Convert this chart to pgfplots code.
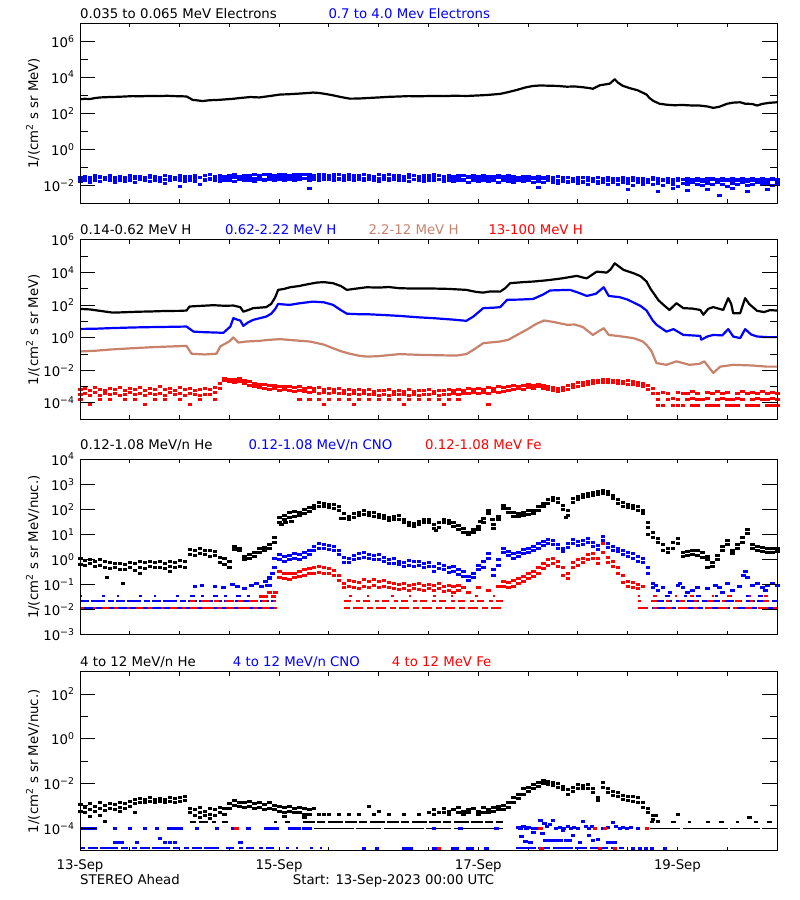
\documentclass[border=0pt]{standalone}
\usepackage{pgfplots}
\pgfplotsset{compat=1.18}
\usepackage{pgfplotstable}
\usepackage{fontspec}
\setmainfont{DejaVu Sans}
\definecolor{hbrown}{RGB}{200,130,108}
\newcommand{\lf}{\fontsize{13.3}{15}\selectfont}
\pgfplotsset{every axis/.append style={scale only axis, width=697pt, xmin=0, xmax=7,
    tick align=inside, axis line style={line width=1pt}, tick style={line width=1pt,black}}}
\tikzset{
  mysc/.style={only marks, mark=square*, mark size=1pt, mark options={draw=none, xscale=1.7}},
  myln/.style={line width=2.2pt, line join=round},
  myrw/.style={line width=2pt},
}
\begin{document}
% ---------------- Panel 1 data ----------------
\pgfplotstableread{
d v
0.00 600
0.05 640
0.10 620
0.15 700
0.20 760
0.30 800
0.40 830
0.53 900
0.60 880
0.70 920
0.80 900
0.87 940
0.95 900
1.02 880
1.07 860
1.10 700
1.13 560
1.18 520
1.23 480
1.30 530
1.40 560
1.54 640
1.60 700
1.71 800
1.80 760
1.90 900
2.01 1100
2.10 1150
2.21 1250
2.30 1350
2.34 1420
2.40 1350
2.48 1150
2.54 1000
2.62 800
2.71 650
2.80 660
2.88 700
3.00 760
3.10 820
3.21 860
3.30 900
3.40 880
3.54 920
3.65 900
3.75 940
3.89 920
4.00 980
4.10 1050
4.22 1200
4.30 1500
4.39 2000
4.47 2700
4.55 3300
4.62 3500
4.72 3400
4.80 3300
4.89 3000
4.97 3100
5.05 2800
5.12 2500
5.15 2300
5.22 3600
5.32 4400
5.37 7800
5.40 5200
5.45 3400
5.52 2500
5.60 1900
5.69 1100
5.72 700
5.76 480
5.82 340
5.89 300
5.97 280
6.05 290
6.15 270
6.22 270
6.30 240
6.36 200
6.42 230
6.50 340
6.56 390
6.63 410
6.68 340
6.75 330
6.80 270
6.85 330
6.92 380
7.00 410
}\eBlack
\pgfplotstableread{
d a b c
0.00 0.030 0.017 0.024
0.05 0.034 0.020 0.026
0.10 0.028 0.015 0.022
0.15 0.036 0.019 0.025
0.20 0.031 0.016 0.027
0.25 0.027 0.021 0.023
0.30 0.035 0.018 0.025
0.35 0.030 0.014 0.021
0.40 0.033 0.020 0.026
0.45 0.029 0.017 0.024
0.50 0.037 0.019 0.024
0.55 0.031 0.015 0.026
0.60 0.034 0.021 0.022
0.65 0.028 0.018 0.025
0.70 0.036 0.016 0.027
0.75 0.032 0.020 0.023
0.80 0.030 0.017 0.025
0.85 0.035 0.013 0.021
0.90 0.033 0.019 0.026
0.95 0.029 0.021 0.024
1.00 0.038 0.018 0.024
1.05 0.034 0.016 0.026
1.10 0.031 0.020 0.022
1.15 0.036 0.017 0.025
1.20 0.030 0.011 0.027
1.25 0.035 0.019 0.023
1.30 0.039 0.021 0.025
1.35 0.033 0.018 0.021
1.40 0.037 0.016 0.026
1.45 0.031 0.020 0.024
1.50 0.036 0.019 0.025
1.55 0.040 0.017 0.027
1.60 0.034 0.021 0.023
1.65 0.038 0.018 0.026
1.70 0.035 0.020 0.028
1.75 0.041 0.016 0.024
1.80 0.036 0.022 0.026
1.85 0.039 0.019 0.022
1.90 0.042 0.021 0.027
1.95 0.037 0.018 0.025
2.00 0.040 0.022 0.027
2.05 0.043 0.020 0.029
2.10 0.038 0.023 0.025
2.15 0.041 0.019 0.028
2.20 0.044 0.021 0.030
2.25 0.039 0.024 0.026
2.30 0.042 0.020 0.028
2.35 0.037 0.022 0.024
2.40 0.043 0.019 0.029
2.45 0.040 0.023 0.027
2.50 0.038 0.021 0.027
2.55 0.042 0.018 0.029
2.60 0.039 0.022 0.025
2.65 0.036 0.020 0.028
2.70 0.041 0.023 0.030
2.75 0.038 0.019 0.026
2.80 0.035 0.021 0.028
2.85 0.040 0.018 0.024
2.90 0.037 0.022 0.029
2.95 0.034 0.020 0.027
3.00 0.039 0.017 0.026
3.05 0.036 0.021 0.028
3.10 0.040 0.019 0.024
3.15 0.035 0.022 0.027
3.20 0.038 0.018 0.029
3.25 0.034 0.020 0.025
3.30 0.039 0.017 0.027
3.35 0.036 0.021 0.023
3.40 0.033 0.019 0.028
3.45 0.038 0.016 0.026
3.50 0.035 0.020 0.025
3.55 0.040 0.018 0.027
3.60 0.036 0.021 0.023
3.65 0.033 0.017 0.026
3.70 0.037 0.019 0.028
3.75 0.034 0.016 0.024
3.80 0.038 0.020 0.026
3.85 0.035 0.018 0.022
3.90 0.032 0.015 0.027
3.95 0.036 0.019 0.025
4.00 0.033 0.017 0.024
4.05 0.037 0.020 0.026
4.10 0.034 0.016 0.022
4.15 0.031 0.018 0.025
4.20 0.035 0.015 0.027
4.25 0.032 0.019 0.023
4.30 0.036 0.017 0.025
4.35 0.033 0.014 0.021
4.40 0.030 0.018 0.026
4.45 0.034 0.016 0.024
4.50 0.031 0.019 0.023
4.55 0.029 0.015 0.025
4.60 0.033 0.017 0.021
4.65 0.030 0.014 0.024
4.70 0.032 0.018 0.022
4.75 0.028 0.015 0.020
4.80 0.031 0.013 0.019
4.85 0.027 0.016 0.021
4.90 0.030 0.014 0.017
4.95 0.026 0.017 0.020
5.00 0.029 0.013 0.018
5.05 0.027 0.015 0.016
5.10 0.030 0.012 0.019
5.15 0.026 0.016 0.021
5.20 0.028 0.013 0.017
5.25 0.025 0.015 0.020
5.30 0.029 0.012 0.018
5.35 0.026 0.014 0.016
5.40 0.024 0.011 0.019
5.45 0.028 0.015 0.021
5.50 0.025 0.013 0.017
5.55 0.027 0.010 0.020
5.60 0.024 0.014 0.018
5.65 0.026 0.012 0.016
5.70 0.023 0.015 0.019
5.75 0.027 0.011 0.021
5.80 0.024 0.013 0.017
5.85 0.022 0.010 0.020
5.90 0.026 0.014 0.018
5.95 0.023 0.012 0.016
6.00 0.025 0.009 0.019
6.05 0.022 0.013 0.021
6.10 0.026 0.011 0.017
6.15 0.023 0.014 0.020
6.20 0.025 0.012 0.018
6.25 0.022 0.010 0.016
6.30 0.026 0.013 0.019
6.35 0.024 0.011 0.021
6.40 0.021 0.014 0.017
6.45 0.025 0.012 0.020
6.50 0.023 0.009 0.018
6.55 0.026 0.013 0.016
6.60 0.022 0.011 0.019
6.65 0.024 0.014 0.021
6.70 0.021 0.010 0.017
6.75 0.025 0.012 0.020
6.80 0.023 0.014 0.018
6.85 0.026 0.011 0.016
6.90 0.022 0.013 0.019
6.95 0.024 0.010 0.021
7.00 0.023 0.012 0.017
}\eBlue
% ---------------- Panel 2 data ----------------
\pgfplotstableread{
d v
0.00 59
0.10 55
0.20 45
0.33 35
0.45 37
0.60 40
0.70 41
0.85 44
1.00 45
1.07 47
1.10 83
1.20 90
1.34 100
1.45 92
1.54 95
1.61 76
1.64 40
1.68 48
1.74 66
1.87 76
1.92 120
1.96 300
1.99 870
2.05 1000
2.11 1260
2.20 1500
2.30 2000
2.38 2450
2.45 2600
2.54 2240
2.62 1500
2.68 870
2.75 1000
2.88 1260
3.00 1200
3.10 1300
3.21 1100
3.35 1050
3.55 1050
3.70 1000
3.88 870
3.98 650
4.05 590
4.12 700
4.22 680
4.27 1100
4.32 2240
4.45 2600
4.55 2820
4.65 3200
4.72 3550
4.85 4500
4.99 6300
5.05 5000
5.09 4470
5.19 11500
5.29 10000
5.33 16000
5.37 37000
5.42 22000
5.46 14500
5.56 9100
5.63 6000
5.69 2820
5.73 1000
5.76 550
5.81 200
5.86 105
5.92 51
5.99 132
6.06 66
6.15 62
6.23 51
6.26 26
6.31 60
6.36 76
6.42 60
6.46 51
6.51 270
6.54 120
6.56 32
6.63 32
6.68 270
6.72 120
6.80 45
6.87 38
6.93 50
7.00 47
}\hBlack
\pgfplotstableread{
d v
0.00 3.5
0.15 3.6
0.30 3.9
0.53 4.3
0.70 4.5
0.90 4.7
1.07 4.9
1.14 2.4
1.25 2.2
1.37 2.1
1.44 2.0
1.51 4.9
1.54 16
1.58 13
1.61 11.5
1.64 5.4
1.69 9
1.74 12.6
1.87 20
1.92 30
1.96 58
1.99 120
2.05 110
2.11 105
2.20 130
2.34 166
2.45 150
2.54 105
2.62 50
2.68 30
2.80 28
2.88 28
3.05 25
3.21 22
3.40 18
3.55 16
3.75 13
3.88 11
3.95 20
4.05 66
4.15 70
4.22 76
4.29 214
4.40 220
4.55 240
4.65 450
4.72 800
4.85 850
4.92 870
5.00 600
5.09 370
5.18 500
5.26 1260
5.31 370
5.42 310
5.50 220
5.56 145
5.63 90
5.69 47
5.75 12
5.79 6.3
5.85 3.5
5.89 2.4
5.96 3.4
6.06 1.5
6.15 1.4
6.23 1.3
6.24 0.76
6.30 1.2
6.36 1.5
6.45 1.4
6.51 3.4
6.56 1.2
6.63 0.95
6.68 3.4
6.74 1.6
6.80 1.2
6.90 1.1
7.00 1.1
}\hBlue
\pgfplotstableread{
d v
0.00 0.145
0.15 0.16
0.30 0.19
0.53 0.23
0.75 0.27
0.95 0.3
1.07 0.32
1.12 0.105
1.25 0.095
1.37 0.105
1.41 0.3
1.50 0.6
1.54 1.05
1.59 0.51
1.67 0.59
1.80 0.65
1.90 0.75
2.01 0.83
2.15 0.7
2.31 0.59
2.45 0.38
2.54 0.23
2.62 0.15
2.71 0.105
2.80 0.08
2.88 0.07
3.00 0.075
3.21 0.1
3.40 0.09
3.60 0.085
3.78 0.081
3.88 0.1
3.95 0.18
4.05 0.47
4.22 0.59
4.30 0.75
4.39 1.5
4.50 3.5
4.58 7
4.66 11.5
4.75 9.5
4.89 6.3
4.97 6.5
5.05 4.6
5.15 1.5
5.26 3.9
5.31 1.5
5.40 1.3
5.56 0.95
5.65 0.6
5.69 0.37
5.74 0.15
5.79 0.028
5.89 0.022
5.99 0.036
6.12 0.022
6.22 0.025
6.27 0.036
6.36 0.007
6.43 0.017
6.56 0.022
6.75 0.02
6.90 0.017
7.00 0.017
}\hBrown
\pgfplotstableread{
d a b c
0.00 7e-4 3.4e-4 1.6e-4
0.05 8e-4 4.0e-4 nan
0.10 6e-4 3.0e-4 8e-5
0.15 9e-4 4.4e-4 nan
0.20 7e-4 3.2e-4 1.8e-4
0.25 6e-4 3.8e-4 nan
0.30 8e-4 3.5e-4 1.8e-4
0.35 7e-4 4.2e-4 nan
0.40 9e-4 3.0e-4 nan
0.45 6e-4 3.6e-4 1.8e-4
0.50 8e-4 4.5e-4 nan
0.55 7e-4 3.3e-4 1.8e-4
0.60 9e-4 3.9e-4 nan
0.65 6e-4 3.1e-4 8e-5
0.70 8e-4 4.1e-4 nan
0.75 7e-4 3.4e-4 1.8e-4
0.80 1e-3 3.8e-4 nan
0.85 7e-4 3.2e-4 1.8e-4
0.90 8e-4 4.3e-4 nan
0.95 6e-4 3.5e-4 nan
1.00 9e-4 3.9e-4 1.8e-4
1.05 7e-4 3.0e-4 nan
1.10 8e-4 4.2e-4 8e-5
1.15 6e-4 3.4e-4 nan
1.20 7e-4 3.1e-4 1.8e-4
1.25 8e-4 3.7e-4 nan
1.30 7e-4 3.3e-4 nan
1.35 9e-4 4.4e-4 1.8e-4
1.40 1.6e-3 8e-4 nan
1.45 3.2e-3 2.4e-3 nan
1.50 3.0e-3 2.2e-3 nan
1.55 2.8e-3 2.0e-3 nan
1.60 3.4e-3 2.3e-3 nan
1.65 2.5e-3 1.7e-3 nan
1.70 2.2e-3 1.3e-3 nan
1.75 1.6e-3 1.1e-3 nan
1.80 1.5e-3 9e-4 nan
1.85 1.4e-3 8e-4 nan
1.90 1.2e-3 7e-4 nan
1.95 1.3e-3 8e-4 nan
2.00 1.1e-3 6e-4 nan
2.05 1.0e-3 7e-4 nan
2.10 1.1e-3 6e-4 nan
2.15 9e-4 5e-4 nan
2.20 1.0e-3 6e-4 1.8e-4
2.25 8e-4 5e-4 nan
2.30 9e-4 4.5e-4 1.8e-4
2.35 8e-4 5e-4 nan
2.40 9e-4 4.2e-4 1.8e-4
2.45 7e-4 4.8e-4 8e-5
2.50 8e-4 4.0e-4 1.8e-4
2.55 7e-4 4.5e-4 nan
2.60 8e-4 3.8e-4 1.8e-4
2.65 6e-4 4.2e-4 nan
2.70 7e-4 3.5e-4 1.8e-4
2.75 6e-4 4.0e-4 8e-5
2.80 7e-4 3.4e-4 1.8e-4
2.85 6e-4 3.8e-4 nan
2.90 7e-4 3.3e-4 1.8e-4
2.95 5.5e-4 3.6e-4 nan
3.00 6.5e-4 3.2e-4 1.8e-4
3.05 6e-4 3.6e-4 nan
3.10 7e-4 3.1e-4 1.8e-4
3.15 5.5e-4 3.5e-4 nan
3.20 6.5e-4 3.3e-4 1.8e-4
3.25 5.5e-4 3.7e-4 8e-5
3.30 7e-4 3.2e-4 1.8e-4
3.35 5.5e-4 3.6e-4 nan
3.40 6.5e-4 3.1e-4 1.8e-4
3.45 6e-4 3.5e-4 nan
3.50 7e-4 3.3e-4 1.8e-4
3.55 5.5e-4 3.8e-4 nan
3.60 6.5e-4 3.2e-4 1.8e-4
3.65 6e-4 3.6e-4 8e-5
3.70 7e-4 3.4e-4 1.8e-4
3.75 6e-4 3.9e-4 nan
3.80 7.5e-4 3.5e-4 1.8e-4
3.85 6.5e-4 4.2e-4 nan
3.90 8e-4 3.8e-4 nan
3.95 7e-4 4.4e-4 nan
4.00 8.5e-4 4.0e-4 nan
4.05 7.5e-4 4.6e-4 nan
4.10 9e-4 4.2e-4 8e-5
4.15 8e-4 5e-4 nan
4.20 1.0e-3 4.6e-4 nan
4.25 9e-4 5.5e-4 nan
4.30 1.1e-3 6e-4 nan
4.35 1.2e-3 7e-4 nan
4.40 1.1e-3 8e-4 nan
4.45 1.3e-3 7e-4 nan
4.50 1.4e-3 9e-4 nan
4.55 1.3e-3 8e-4 nan
4.60 1.5e-3 1.0e-3 nan
4.65 1.3e-3 8e-4 nan
4.70 1.1e-3 7e-4 nan
4.75 9e-4 6e-4 nan
4.80 8e-4 5e-4 nan
4.85 9e-4 6e-4 nan
4.90 1.2e-3 7e-4 nan
4.95 1.5e-3 9e-4 nan
5.00 1.8e-3 1.1e-3 nan
5.05 2.0e-3 1.3e-3 nan
5.10 2.2e-3 1.5e-3 nan
5.15 2.4e-3 1.6e-3 nan
5.20 2.6e-3 1.8e-3 nan
5.25 2.9e-3 2.0e-3 nan
5.30 2.7e-3 1.9e-3 nan
5.35 2.5e-3 1.8e-3 nan
5.40 2.6e-3 1.7e-3 nan
5.45 2.3e-3 1.6e-3 nan
5.50 2.4e-3 1.5e-3 nan
5.55 2.1e-3 1.4e-3 nan
5.60 1.9e-3 1.2e-3 nan
5.65 1.7e-3 1.0e-3 nan
5.70 1.2e-3 7e-4 nan
5.75 8e-4 4e-4 nan
5.80 4.0e-4 1.8e-4 7.6e-5
5.85 4.5e-4 nan 7.6e-5
5.90 4.0e-4 1.8e-4 nan
5.95 nan 2.0e-4 7.6e-5
6.00 4.5e-4 1.8e-4 7.6e-5
6.05 4.0e-4 nan 7.6e-5
6.10 4.0e-4 1.8e-4 nan
6.15 5.0e-4 2.0e-4 7.6e-5
6.20 4.0e-4 1.8e-4 7.6e-5
6.25 nan 1.8e-4 nan
6.30 4.5e-4 2.0e-4 7.6e-5
6.35 4.0e-4 nan 7.6e-5
6.40 5.5e-4 1.8e-4 7.6e-5
6.45 4.0e-4 2.0e-4 nan
6.50 4.5e-4 1.8e-4 7.6e-5
6.55 nan 1.8e-4 7.6e-5
6.60 4.0e-4 2.0e-4 7.6e-5
6.65 5e-4 1.8e-4 nan
6.70 4.0e-4 nan 7.6e-5
6.75 4.5e-4 1.8e-4 7.6e-5
6.80 4.0e-4 2.0e-4 7.6e-5
6.85 5.5e-4 1.8e-4 nan
6.90 4.0e-4 1.8e-4 7.6e-5
6.95 4.5e-4 2.0e-4 7.6e-5
7.00 4.0e-4 1.8e-4 7.6e-5
}\hRed
% ---------------- Panel 3 data ----------------
\pgfplotstableread{
d a b
0.00 1.1 0.65
0.05 0.95 0.6
0.10 1.05 0.7
0.15 0.9 0.55
0.20 1.0 0.62
0.25 0.85 0.5
0.30 0.8 0.45
0.35 0.7 0.5
0.40 0.75 0.42
0.45 0.65 0.4
0.50 0.8 0.48
0.55 0.7 0.38
0.60 0.85 0.5
0.65 0.78 0.45
0.70 0.9 0.55
0.75 0.8 0.5
0.80 0.85 0.52
0.85 0.75 0.45
0.90 0.9 0.55
0.95 0.8 0.5
1.00 0.95 0.55
1.05 0.85 0.52
1.10 2.6 1.7
1.15 2.3 1.5
1.20 2.8 1.8
1.25 2.4 1.6
1.30 2.5 1.4
1.35 2.2 1.5
1.40 1.3 0.8
1.45 1.1 0.65
1.50 0.9 0.5
1.55 3.4 2.6
1.60 3.0 2.4
1.65 1.4 1.0
1.70 1.6 1.1
1.75 2.0 1.4
1.80 2.8 2.0
1.85 3.2 2.3
1.90 4.0 2.8
1.95 8 5
2.00 50 30
2.05 60 40
2.10 75 50
2.15 85 55
2.20 80 60
2.25 100 70
2.30 120 85
2.35 150 110
2.40 190 140
2.45 180 130
2.50 170 125
2.55 160 115
2.60 130 95
2.65 70 45
2.70 55 40
2.75 70 50
2.80 80 60
2.85 90 65
2.90 80 60
2.95 75 55
3.00 65 50
3.05 60 45
3.10 50 38
3.15 55 40
3.20 58 42
3.25 40 30
3.30 32 24
3.35 28 22
3.40 35 25
3.45 40 30
3.50 42 30
3.55 25 18
3.60 30 20
3.65 42 30
3.70 38 28
3.75 30 22
3.80 24 17
3.85 18 13
3.90 13 10
3.95 16 12
4.00 22 16
4.05 45 30
4.10 95 70
4.15 25 18
4.20 55 40
4.25 150 110
4.30 110 80
4.35 75 55
4.40 70 52
4.45 80 60
4.50 90 65
4.55 95 70
4.60 130 95
4.65 175 130
4.70 250 180
4.75 320 240
4.80 280 200
4.85 150 100
4.90 95 60
4.95 280 200
5.00 330 250
5.05 400 300
5.10 440 330
5.15 480 360
5.20 520 400
5.25 600 450
5.30 520 400
5.35 380 280
5.40 250 180
5.45 200 140
5.50 160 120
5.55 150 110
5.60 130 95
5.65 95 70
5.70 30 20
5.75 12 8
5.80 7 5
5.85 4 2.5
5.90 3 2
5.95 5 3
6.00 7 4.5
6.05 2 1.4
6.10 2.2 1.5
6.15 2.5 1.6
6.20 2.3 1.5
6.25 2.0 1.3
6.30 1.4 1.0
6.35 0.8 0.55
6.40 1.5 1.0
6.45 3.5 2.5
6.50 6 4
6.55 2.5 1.8
6.60 4 2.8
6.65 8 5
6.70 16 11
6.75 4 2.8
6.80 3.5 2.5
6.85 3.2 2.2
6.90 3.0 2.0
6.95 2.8 2.0
7.00 3.0 2.2
}\heBlack
\pgfplotstableread{
d a b
1.90 0.18 0.1
1.95 1.2 0.5
2.00 1.6 1.0
2.05 1.4 0.9
2.10 1.5 1.0
2.15 1.8 1.1
2.20 1.6 1.0
2.25 2.0 1.3
2.30 2.5 1.6
2.35 3.5 2.3
2.40 4.5 3.0
2.45 4.2 2.8
2.50 3.8 2.6
2.55 3.5 2.4
2.60 2.5 1.6
2.65 1.3 0.8
2.70 1.2 0.8
2.75 1.5 1.0
2.80 1.8 1.2
2.85 2.0 1.3
2.90 1.7 1.1
2.95 1.5 1.0
3.00 1.6 1.0
3.05 1.3 0.9
3.10 1.0 0.7
3.15 1.1 0.75
3.20 0.9 0.65
3.25 0.8 0.55
3.30 0.95 0.6
3.35 0.85 0.55
3.40 0.9 0.6
3.45 0.75 0.5
3.50 0.8 0.55
3.55 0.55 0.35
3.60 0.7 0.45
3.65 0.6 0.4
3.70 0.5 0.32
3.75 0.55 0.35
3.80 0.4 0.26
3.85 0.35 0.22
3.90 0.22 0.15
3.95 0.3 0.2
4.00 0.6 0.4
4.05 0.9 0.5
4.10 1.8 1.2
4.15 0.4 0.25
4.20 1.0 0.6
4.25 3.0 2.0
4.30 2.2 1.5
4.35 1.8 1.2
4.40 2.0 1.4
4.45 2.6 1.8
4.50 3.0 2.0
4.55 3.6 2.4
4.60 4.5 3.0
4.65 5.5 3.8
4.70 6.5 4.5
4.75 6.0 4.2
4.80 4.0 2.8
4.85 3.0 2.2
4.90 4.5 3.2
4.95 6.5 4.5
5.00 5.5 3.8
5.05 6.0 4.2
5.10 7 5
5.15 5 3.5
5.20 3.8 2.6
5.25 9 6
5.30 4.5 3.2
5.35 3.5 2.4
5.40 3.0 2.1
5.45 2.5 1.7
5.50 2.0 1.4
5.55 1.8 1.2
5.60 1.4 0.9
5.65 1.2 0.8
5.70 0.5 0.3
5.75 0.12 0.08
}\cnoBlue
\pgfplotstableread{
d a b
2.00 0.35 0.2
2.05 0.3 0.18
2.10 0.28 0.17
2.15 0.3 0.2
2.20 0.35 0.22
2.25 0.4 0.25
2.30 0.45 0.28
2.35 0.5 0.3
2.40 0.55 0.32
2.45 0.5 0.3
2.50 0.45 0.28
2.55 0.38 0.24
2.60 0.25 0.15
2.65 0.12 0.08
2.70 0.15 0.09
2.75 0.14 0.08
2.80 0.13 0.07
2.85 0.16 0.09
2.90 0.14 0.08
2.95 0.17 0.1
3.00 0.14 0.08
3.05 0.15 0.09
3.10 0.13 0.08
3.15 0.12 0.07
3.20 0.11 0.065
3.25 0.12 0.07
3.30 0.1 0.06
3.35 0.11 0.07
3.40 0.12 0.065
3.45 0.1 0.06
3.50 0.11 0.07
3.55 0.1 0.06
3.60 0.12 0.07
3.65 0.09 0.055
3.70 0.1 0.06
3.75 0.09 0.05
3.80 0.1 0.06
3.85 0.08 nan
3.90 nan 0.05
4.00 0.08 nan
4.10 nan 0.06
4.20 0.09 nan
4.25 0.14 0.09
4.30 0.13 0.08
4.35 0.15 0.09
4.40 0.18 0.12
4.45 0.22 0.14
4.50 0.3 0.18
4.55 0.35 0.22
4.60 0.5 0.3
4.65 0.7 0.45
4.70 1.0 0.6
4.75 1.1 0.7
4.80 0.9 0.55
4.85 0.5 0.25
4.90 0.3 0.18
4.95 0.8 0.5
5.00 1.0 0.6
5.05 1.2 0.8
5.10 1.6 1.0
5.15 1.9 1.2
5.20 1.2 0.7
5.25 4.4 2.0
5.30 1.3 0.8
5.35 0.9 0.55
5.40 0.5 0.3
5.45 0.25 0.13
5.50 0.14 0.09
5.55 0.13 0.08
5.60 0.11 0.07
5.65 0.09 nan
}\feRed
% ---------------- Panel 4 data ----------------
\pgfplotstableread{
d a b
0.00 1.2e-3 6e-4
0.05 9e-4 5e-4
0.10 1.3e-3 7e-4
0.15 1.0e-3 6e-4
0.20 1.4e-3 8e-4
0.25 1.1e-3 6.5e-4
0.30 1.3e-3 8e-4
0.35 1.2e-3 7e-4
0.40 1.5e-3 9e-4
0.45 1.3e-3 8e-4
0.50 1.6e-3 1.0e-3
0.55 2.0e-3 1.3e-3
0.60 2.2e-3 1.5e-3
0.65 2.0e-3 1.4e-3
0.70 2.4e-3 1.6e-3
0.75 2.1e-3 1.5e-3
0.80 2.3e-3 1.6e-3
0.85 2.0e-3 1.4e-3
0.90 2.5e-3 1.7e-3
0.95 2.2e-3 1.5e-3
1.00 2.4e-3 1.6e-3
1.05 2.6e-3 1.8e-3
1.10 8e-4 5e-4
1.15 7e-4 4e-4
1.20 9e-4 5.5e-4
1.25 6e-4 4e-4
1.30 8e-4 4.5e-4
1.35 7e-4 4e-4
1.40 9e-4 5e-4
1.45 8e-4 4.5e-4
1.50 1.3e-3 8e-4
1.55 1.8e-3 1.1e-3
1.60 1.5e-3 1.0e-3
1.65 1.4e-3 9e-4
1.70 1.6e-3 1.0e-3
1.75 1.3e-3 8e-4
1.80 1.5e-3 9e-4
1.85 1.2e-3 7e-4
1.90 1.4e-3 8e-4
1.95 1.1e-3 7e-4
2.00 1.0e-3 6e-4
2.05 9e-4 5.5e-4
2.10 1.0e-3 6e-4
2.15 8e-4 5e-4
2.20 9e-4 5.5e-4
2.25 8e-4 4.5e-4
2.30 7e-4 4.5e-4
2.35 8e-4 nan
2.40 nan 4.5e-4
2.45 4.5e-4 nan
2.50 nan 4.5e-4
2.60 4.5e-4 nan
2.70 nan 4.5e-4
2.80 4.5e-4 nan
2.95 4.5e-4 nan
3.10 nan 4.5e-4
3.25 4.5e-4 nan
3.40 nan 4.5e-4
3.50 5e-4 nan
3.55 7e-4 4.5e-4
3.60 5e-4 nan
3.65 8e-4 5e-4
3.70 6e-4 4.5e-4
3.75 7e-4 nan
3.80 9e-4 5e-4
3.85 6e-4 4.5e-4
3.90 7e-4 5e-4
3.95 8e-4 nan
4.00 6e-4 4.5e-4
4.05 9e-4 5e-4
4.10 7e-4 5e-4
4.15 9e-4 6e-4
4.20 1.0e-3 7e-4
4.25 1.1e-3 7e-4
4.30 1.5e-3 9e-4
4.35 2.5e-3 1.5e-3
4.40 3.5e-3 2.2e-3
4.45 6e-3 3.5e-3
4.50 7e-3 4.5e-3
4.55 9e-3 6e-3
4.60 1.2e-2 8e-3
4.65 1.4e-2 1.0e-2
4.70 1.3e-2 9e-3
4.75 1.2e-2 8.5e-3
4.80 1.0e-2 7e-3
4.85 8e-3 5.5e-3
4.90 5.5e-3 3.5e-3
4.95 7e-3 4.5e-3
5.00 9e-3 6.5e-3
5.05 8.5e-3 6e-3
5.10 9e-3 6.5e-3
5.15 6e-3 4e-3
5.20 2.5e-3 1.8e-3
5.25 1.2e-2 7e-3
5.30 6e-3 4e-3
5.35 4.5e-3 3e-3
5.40 4e-3 2.8e-3
5.45 3e-3 2e-3
5.50 2.8e-3 1.8e-3
5.55 2.6e-3 1.7e-3
5.60 2.5e-3 1.5e-3
5.65 1.5e-3 9e-4
5.70 8e-4 5e-4
5.75 4e-4 2.5e-4
}\lBlack
\begin{tikzpicture}
\path[use as bounding box] (0,0) rectangle (800pt,900pt);
% ================= Panel 1 =================
\begin{axis}[at={(80pt,696.7pt)}, anchor=south west, height=180pt, ymode=log, ymin=1e-3, ymax=1e7,
  xtick={0,0.5,...,7}, xticklabels={}, ytick=\empty, major tick length=4pt]
\addplot[myln, black] table[x=d,y=v] {\eBlack};
\addplot[mysc, blue] table[x=d,y=a] {\eBlue};
\addplot[mysc, blue] table[x=d,y=b] {\eBlue};
\addplot[mysc, blue] table[x=d,y=c] {\eBlue};
\addplot[mysc, blue] coordinates {(1.0,0.0085)(2.3,0.007)(4.6,0.008)(5.5,0.006)(5.8,0.005)(6.1,0.0055)(6.3,0.006)(6.7,0.0045)(6.9,0.006)(6.42,0.0028)(5.95,0.0065)(6.55,0.007)};
\end{axis}
\begin{axis}[at={(80pt,696.7pt)}, anchor=south west, height=180pt, ymode=log, ymin=1e-3, ymax=1e7,
  xtick=\empty, major tick length=15pt, minor tick length=7.5pt,
  ytick={1e-2,1,1e2,1e4,1e6}, minor ytick={1e-1,1e1,1e3,1e5},
  yticklabels={10\textsuperscript{−2},10\textsuperscript{0},10\textsuperscript{2},10\textsuperscript{4},10\textsuperscript{6}},
  yticklabel style={font=\lf, xshift=-2pt},
  ylabel={1/(cm\textsuperscript{2} s sr MeV)},
  ylabel style={font=\lf, at={(axis description cs:-0.0674,0.5)}, anchor=center}]
\end{axis}
% ================= Panel 2 =================
\begin{axis}[at={(80pt,480.7pt)}, anchor=south west, height=179.3pt, ymode=log, ymin=1e-5, ymax=1e6,
  xtick={0,0.5,...,7}, xticklabels={}, ytick=\empty, major tick length=4pt]
\addplot[myln, black] table[x=d,y=v] {\hBlack};
\addplot[myln, blue] table[x=d,y=v] {\hBlue};
\addplot[myln, hbrown] table[x=d,y=v] {\hBrown};
\addplot[mysc, red] table[x=d,y=a] {\hRed};
\addplot[mysc, red] table[x=d,y=b] {\hRed};
\addplot[mysc, red] table[x=d,y=c] {\hRed};
\end{axis}
\begin{axis}[at={(80pt,480.7pt)}, anchor=south west, height=179.3pt, ymode=log, ymin=1e-5, ymax=1e6,
  xtick=\empty, major tick length=15pt, minor tick length=7.5pt,
  ytick={1e-4,1e-2,1,1e2,1e4,1e6}, minor ytick={1e-3,1e-1,1e1,1e3,1e5},
  yticklabels={10\textsuperscript{−4},10\textsuperscript{−2},10\textsuperscript{0},10\textsuperscript{2},10\textsuperscript{4},10\textsuperscript{6}},
  yticklabel style={font=\lf, xshift=-2pt},
  ylabel={1/(cm\textsuperscript{2} s sr MeV)},
  ylabel style={font=\lf, at={(axis description cs:-0.0674,0.5)}, anchor=center}]
\end{axis}
% ================= Panel 3 =================
\begin{axis}[at={(80pt,265pt)}, anchor=south west, height=175.7pt, ymode=log, ymin=1e-3, ymax=1e4,
  xtick={0,0.5,...,7}, xticklabels={}, ytick=\empty, major tick length=4pt]
\addplot[mysc, black] table[x=d,y=a] {\heBlack};
\addplot[mysc, black] table[x=d,y=b] {\heBlack};
\addplot[mysc, black] coordinates {(0.27,0.2)(0.43,0.12)(0.6,0.3)(0.9,0.35)(2.02,25)(2.06,30)(2.12,35)(2.62,45)(4.02,35)(4.14,40)(5.7,10)(6.3,0.5)(3.57,15)(4.88,50)};
\addplot[blue, myrw] coordinates {(0,0.0115)(1.98,0.0115)};
\addplot[blue, myrw, dash pattern=on 14pt off 2pt on 8pt off 3pt] coordinates {(5.74,0.0115)(7,0.0115)};
\addplot[blue, myrw, dash pattern=on 9pt off 2pt on 14pt off 3pt on 6pt off 2pt] coordinates {(0,0.022)(1.97,0.022)};
\addplot[blue, myrw, dash pattern=on 12pt off 3pt on 5pt off 4pt on 9pt off 2pt] coordinates {(5.74,0.022)(7,0.022)};
\addplot[blue, myrw, dash pattern=on 2pt off 20pt on 3pt off 12pt] coordinates {(0,0.036)(1.1,0.036)};
\addplot[blue, myrw, dash pattern=on 5pt off 6pt on 3pt off 9pt] coordinates {(1.1,0.036)(1.9,0.036)};
\addplot[blue, myrw, dash pattern=on 3pt off 9pt on 5pt off 14pt] coordinates {(5.75,0.036)(7,0.036)};
\addplot[mysc, blue] coordinates {(1.15,0.09)(1.22,0.1)(1.35,0.085)(1.53,0.11)(1.58,0.085)(1.72,0.1)(1.77,0.12)(1.82,0.09)(1.86,0.14)(1.88,0.1)(1.9,0.2)(1.93,0.3)(1.44,0.08)(1.65,0.07)
 (5.78,0.1)(5.8,0.06)(5.85,0.08)(5.92,0.05)(6.0,0.1)(6.02,0.12)(6.05,0.08)(6.15,0.06)(6.2,0.08)(6.3,0.07)(6.38,0.1)(6.42,0.08)(6.5,0.12)(6.55,0.06)(6.62,0.09)(6.66,0.25)(6.68,0.35)(6.7,0.2)(6.75,0.1)(6.8,0.12)(6.85,0.08)(6.9,0.1)(6.95,0.12)(7.0,0.1)(6.1,0.05)(6.45,0.05)(6.88,0.06)};
\addplot[mysc, blue] table[x=d,y=a] {\cnoBlue};
\addplot[mysc, blue] table[x=d,y=b] {\cnoBlue};
\addplot[red, myrw, dash pattern=on 4pt off 9pt on 3pt off 6pt on 7pt off 5pt] coordinates {(0,0.0115)(1.1,0.0115)};
\addplot[red, myrw, dash pattern=on 8pt off 4pt on 12pt off 3pt on 5pt off 4pt] coordinates {(1.1,0.0115)(1.98,0.0115)};
\addplot[red, myrw, dash pattern=on 6pt off 3pt on 10pt off 4pt] coordinates {(2.65,0.0115)(4.25,0.0115)};
\addplot[red, myrw, dash pattern=on 10pt off 5pt on 4pt off 8pt on 7pt off 6pt] coordinates {(5.6,0.0115)(7,0.0115)};
\addplot[red, myrw, dash pattern=on 5pt off 6pt on 9pt off 4pt] coordinates {(1.1,0.022)(1.97,0.022)};
\addplot[red, myrw, dash pattern=on 7pt off 5pt on 4pt off 3pt] coordinates {(2.65,0.022)(4.25,0.022)};
\addplot[red, myrw, dash pattern=on 3pt off 10pt on 6pt off 9pt] coordinates {(5.6,0.022)(7,0.022)};
\addplot[red, myrw, dash pattern=on 3pt off 15pt on 2pt off 22pt] coordinates {(2.7,0.036)(4.2,0.036)};
\addplot[red, myrw, dash pattern=on 2pt off 13pt on 4pt off 18pt] coordinates {(5.6,0.036)(7,0.036)};
\addplot[mysc, red] coordinates {(1.82,0.036)(1.86,0.036)(1.9,0.05)(1.94,0.036)(1.96,0.05)};
\addplot[mysc, red] table[x=d,y=a] {\feRed};
\addplot[mysc, red] table[x=d,y=b] {\feRed};
\end{axis}
\begin{axis}[at={(80pt,265pt)}, anchor=south west, height=175.7pt, ymode=log, ymin=1e-3, ymax=1e4,
  xtick=\empty, major tick length=15pt, minor tick length=7.5pt,
  ytick={1e-3,1e-2,1e-1,1,1e1,1e2,1e3,1e4}, minor ytick={2e5},
  yticklabels={10\textsuperscript{−3},10\textsuperscript{−2},10\textsuperscript{−1},10\textsuperscript{0},10\textsuperscript{1},10\textsuperscript{2},10\textsuperscript{3},10\textsuperscript{4}},
  yticklabel style={font=\lf, xshift=-2pt},
  ylabel={1/(cm\textsuperscript{2} s sr MeV/nuc.)},
  ylabel style={font=\lf, at={(axis description cs:-0.0674,0.5)}, anchor=center}]
\end{axis}
% ================= Panel 4 =================
\begin{axis}[at={(80pt,49.3pt)}, anchor=south west, height=179pt, ymode=log, ymin=1e-5, ymax=1e3,
  xtick={0,0.5,...,7}, ytick=\empty, major tick length=4pt,
  xticklabels={13-Sep,,,,15-Sep,,,,17-Sep,,,,19-Sep,,,},
  xticklabel style={font=\lf, yshift=-5pt}]
\addplot[mysc, black] table[x=d,y=a] {\lBlack};
\addplot[mysc, black] table[x=d,y=b] {\lBlack};
\addplot[mysc, black] coordinates {(6.0,4.5e-4)(6.72,3e-4)(5.78,4e-4)(5.8,2e-4)(1.2,3e-4)(1.3,2.8e-4)(0.4,6e-4)(0.55,5e-4)(2.05,3.5e-4)(2.25,3e-4)(0.2,4e-4)(0.1,3.5e-4)(0.25,2e-4)(2.9,1e-3)(3.0,6e-4)};
\addplot[black, line width=1.6pt, dash pattern=on 40pt off 2pt on 25pt off 3pt] coordinates {(2.35,1e-4)(4.25,1e-4)};
\addplot[black, line width=1.6pt, dash pattern=on 30pt off 3pt on 45pt off 2pt] coordinates {(5.72,1e-4)(7,1e-4)};
\addplot[black, myrw, dash pattern=on 6pt off 3pt on 9pt off 4pt on 4pt off 6pt] coordinates {(1.1,2e-4)(1.5,2e-4)};
\addplot[black, myrw, dash pattern=on 3pt off 8pt on 5pt off 10pt] coordinates {(1.95,2e-4)(2.2,2e-4)};
\addplot[black, myrw, dash pattern=on 12pt off 2pt on 8pt off 3pt on 15pt off 2pt] coordinates {(2.24,2e-4)(4.25,2e-4)};
\addplot[black, myrw, dash pattern=on 4pt off 6pt on 3pt off 9pt] coordinates {(5.72,2e-4)(5.82,2e-4)};
\addplot[black, myrw, dash pattern=on 5pt off 12pt on 3pt off 15pt on 4pt off 9pt] coordinates {(5.94,2e-4)(6.98,2e-4)};
\addplot[blue, myrw, dash pattern=on 5pt off 3pt on 10pt off 2pt on 18pt off 3pt on 7pt off 4pt] coordinates {(0,1.3e-5)(1.4,1.3e-5)};
\addplot[blue, myrw, dash pattern=on 8pt off 5pt on 4pt off 3pt] coordinates {(1.47,1.3e-5)(1.97,1.3e-5)};
\addplot[blue, myrw, dash pattern=on 3pt off 7pt on 2pt off 12pt] coordinates {(2.07,1.3e-5)(2.45,1.3e-5)};
\addplot[blue, myrw, dash pattern=on 20pt off 2pt on 12pt off 3pt] coordinates {(4.38,1.3e-5)(5.3,1.3e-5)};
\addplot[blue, myrw, dash pattern=on 5pt off 3pt] coordinates {(5.33,1.3e-5)(5.48,1.3e-5)};
\addplot[mysc, blue] coordinates {(2.85,1.3e-5)(2.98,1.3e-5)(3.25,1.3e-5)(3.29,1.3e-5)(3.32,1.3e-5)(3.55,1.3e-5)(3.58,1.3e-5)(3.75,1.3e-5)(3.78,1.3e-5)(3.9,1.3e-5)(3.93,1.3e-5)(4.08,1.3e-5)(5.55,1.3e-5)(5.62,1.3e-5)(5.68,1.3e-5)(5.74,1.3e-5)(5.87,1.3e-5)};
\addplot[mysc, blue] coordinates {(0.02,1e-4)(0.05,1e-4)(0.08,1e-4)(0.12,1e-4)(0.15,1e-4)(0.35,1e-4)(0.5,1e-4)(0.65,1e-4)(0.77,1e-4)(0.89,1e-4)(0.93,1e-4)(0.97,1e-4)(1.01,1e-4)(1.17,1e-4)(1.37,1e-4)(1.54,1e-4)(1.69,1e-4)(1.87,1e-4)(1.9,1e-4)(1.94,1e-4)(1.97,1e-4)(2.11,1e-4)(2.15,1e-4)(2.19,1e-4)(2.25,1e-4)(2.3,1e-4)(3.55,1e-4)(3.82,1e-4)(4.18,1e-4)
 (0.35,2.5e-5)(0.39,2.5e-5)(0.42,2.5e-5)(0.57,2.5e-5)(0.8,3.6e-5)(0.85,2.5e-5)(0.9,2.5e-5)(0.95,2.5e-5)(1.61,2.5e-5)};
\addplot[mysc, blue] coordinates {(4.40,1.1e-4)(4.42,1e-4)(4.45,1.2e-4)(4.48,1e-4)(4.5,1.1e-4)(4.62,2.3e-4)(4.6,1e-4)(4.66,1.7e-4)(4.69,1.2e-4)(4.72,1.5e-4)(4.75,2.3e-4)(4.78,1e-4)(4.82,1.1e-4)(4.86,1e-4)(4.9,1.2e-4)(4.93,1e-4)(4.96,1.1e-4)(5.05,2e-4)(5.08,1.3e-4)(5.11,1e-4)(5.14,1.2e-4)(5.17,1e-4)(5.35,1.8e-4)(5.38,1.2e-4)(5.42,1e-4)(5.45,1.1e-4)(5.49,1e-4)(5.53,1.1e-4)(5.6,1e-4)(4.55,1e-4)(5.0,1e-4)(5.25,1e-4)(5.3,1.1e-4)
 (4.43,4.3e-5)(4.52,2.5e-5)(4.55,7e-5)(4.64,6e-5)(4.67,3e-5)(4.7,3e-5)(4.73,3e-5)(4.76,3e-5)(4.8,3e-5)(4.83,3e-5)(4.85,8e-5)(4.88,3e-5)(4.92,3e-5)(4.95,5e-5)(5.02,2.5e-5)(5.11,5e-5)(5.15,3e-5)(5.2,3.2e-5)(5.3,2.5e-5)(5.33,2.5e-5)(5.37,2.5e-5)(4.47,2.6e-5)};
\addplot[mysc, red] coordinates {(1.57,1e-4)(4.62,1e-4)(5.17,1e-4)(5.27,1e-4)(5.69,1e-4)(3.6,1.3e-5)(4.63,1.3e-5)(5.22,1.3e-5)(5.37,1.3e-5)};
\end{axis}
\begin{axis}[at={(80pt,49.3pt)}, anchor=south west, height=179pt, ymode=log, ymin=1e-5, ymax=1e3,
  xtick=\empty, major tick length=15pt, minor tick length=7.5pt,
  ytick={1e-4,1e-2,1,1e2}, minor ytick={1e-3,1e-1,1e1},
  yticklabels={10\textsuperscript{−4},10\textsuperscript{−2},10\textsuperscript{0},10\textsuperscript{2}},
  yticklabel style={font=\lf, xshift=-2pt},
  ylabel={1/(cm\textsuperscript{2} s sr MeV/nuc.)},
  ylabel style={font=\lf, at={(axis description cs:-0.0674,0.5)}, anchor=center}]
\end{axis}
% ================= Titles =================
\begin{scope}[every node/.style={anchor=base west, inner sep=0pt, font=\lf}]
\node at (80pt,881.7pt) {0.035 to 0.065 MeV Electrons};
\node[text=blue] at (328.3pt,881.7pt) {0.7 to 4.0 Mev Electrons};
\node at (80pt,665pt) {0.14-0.62 MeV H};
\node[text=blue] at (225pt,665pt) {0.62-2.22 MeV H};
\node[text=hbrown] at (368.3pt,665pt) {2.2-12 MeV H};
\node[text=red] at (488.3pt,665pt) {13-100 MeV H};
\node at (80pt,450pt) {0.12-1.08 MeV/n He};
\node[text=blue] at (248.3pt,450pt) {0.12-1.08 MeV/n CNO};
\node[text=red] at (425pt,450pt) {0.12-1.08 MeV Fe};
\node at (80pt,233.3pt) {4 to 12 MeV/n He};
\node[text=blue] at (232.7pt,233.3pt) {4 to 12 MeV/n CNO};
\node[text=red] at (391.7pt,233.3pt) {4 to 12 MeV Fe};
\node at (80pt,15pt) {STEREO Ahead};
\node at (292.7pt,15pt) {Start: 13-Sep-2023 00:00 UTC};
\end{scope}
\end{tikzpicture}
\end{document}
